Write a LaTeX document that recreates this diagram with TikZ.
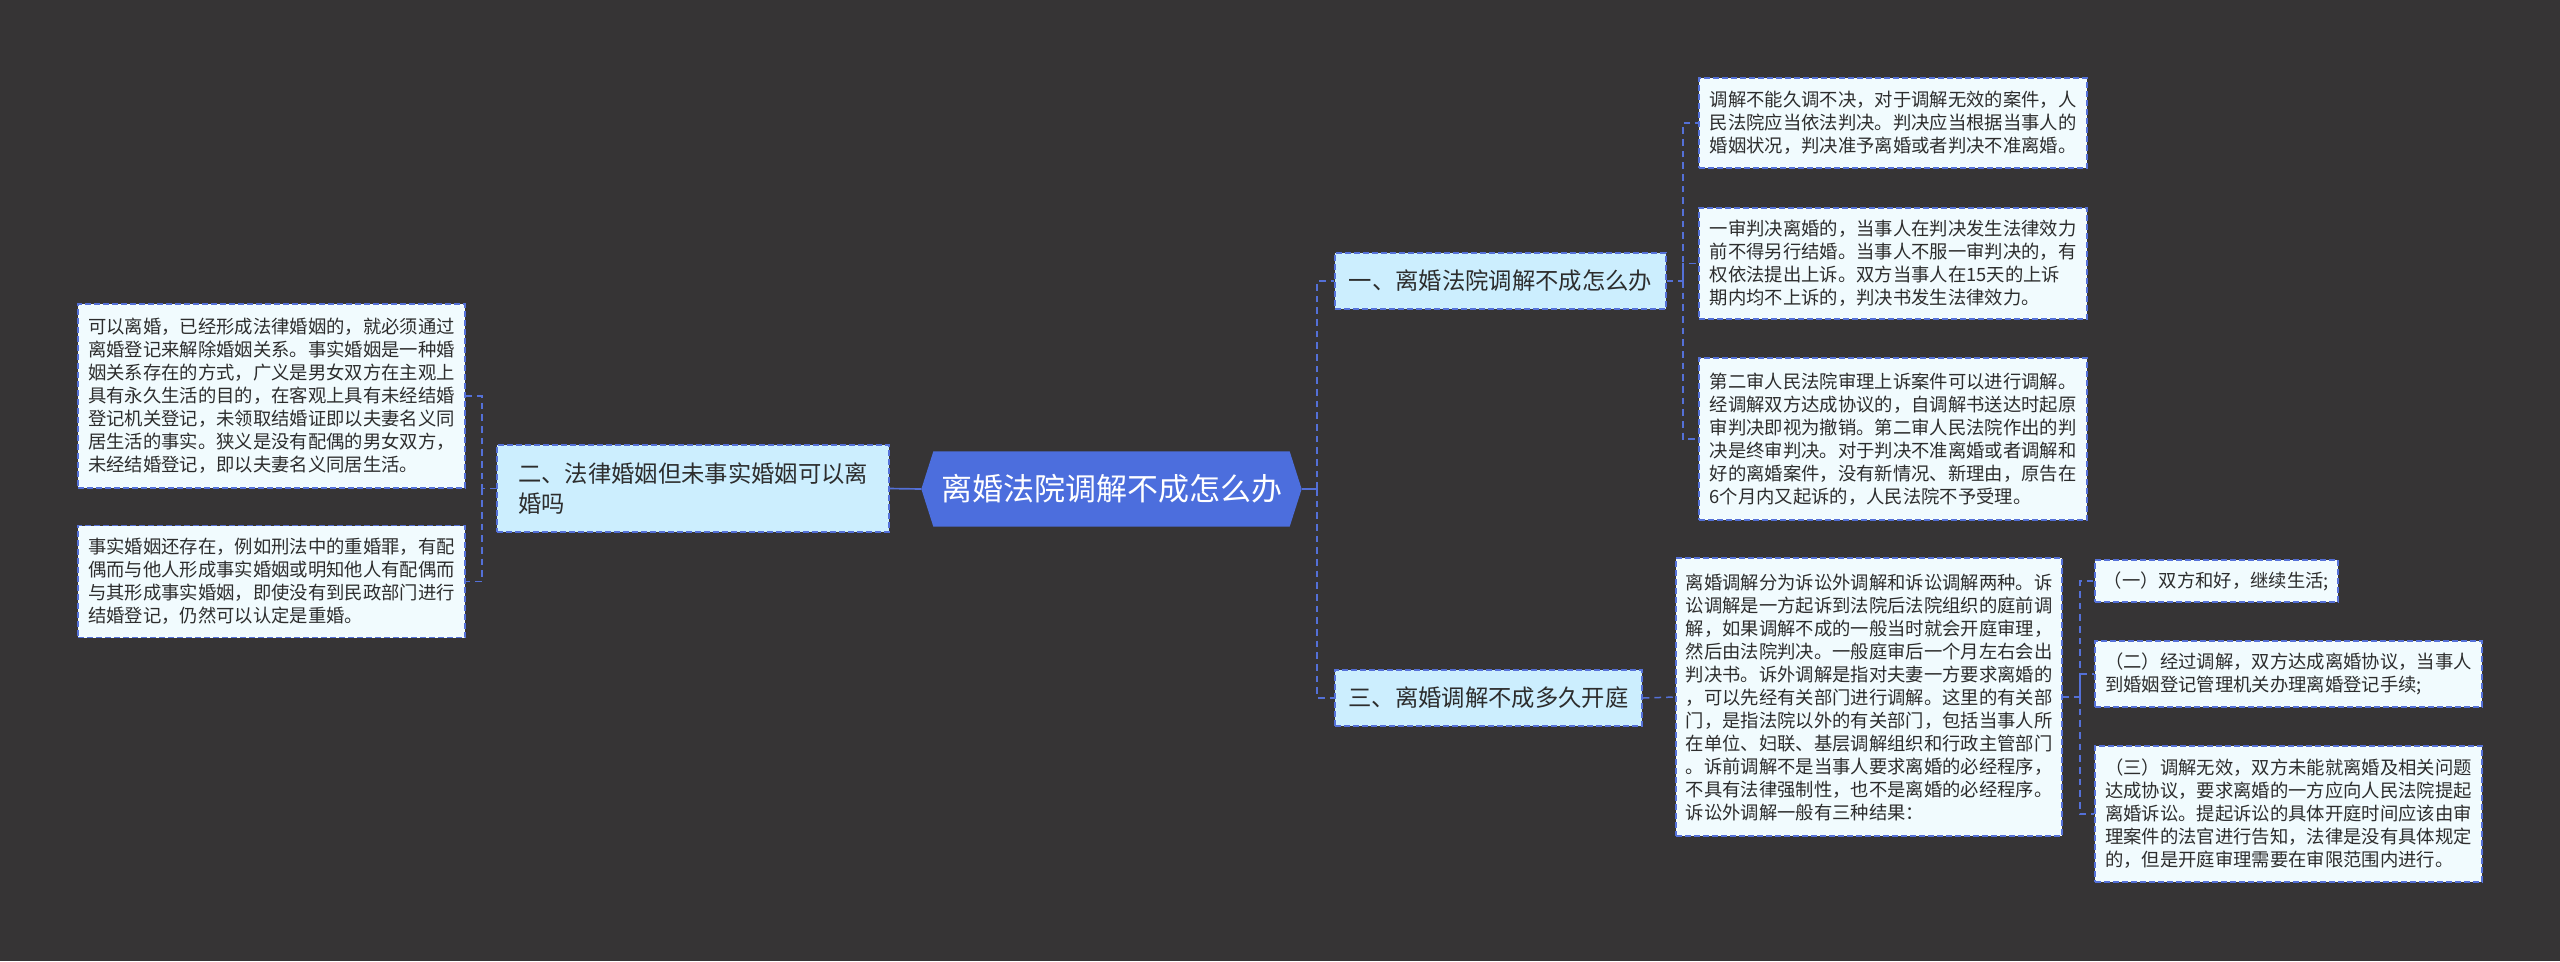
\documentclass[tikz,border=0pt]{standalone}
\usepackage{fontspec}
\setmainfont{Noto Sans CJK SC}
\definecolor{fond}{RGB}{54,52,53}
\definecolor{bleu}{RGB}{76,110,221}
\definecolor{trait}{RGB}{84,112,216}
\definecolor{ciel}{RGB}{204,238,254}
\definecolor{glace}{RGB}{241,251,254}
\definecolor{encre}{RGB}{45,45,45}
\usetikzlibrary{calc,backgrounds}

\begin{document}
\begin{tikzpicture}[x=0.3pt,y=-0.3pt,
	box/.style={draw=trait,line width=0.45pt,dash pattern=on 1.8pt off 0.9pt,text=encre,inner sep=0pt,align=left},
	leaf/.style={box,fill=glace,font=\fontsize{5.5}{6.9}\selectfont},
	branch/.style={box,fill=ciel,font=\fontsize{7}{9}\selectfont,minimum height=16.8pt},
	root/.style={text=white,inner sep=0pt,minimum width=113.7pt,minimum height=22.2pt,font=\fontsize{9.3}{11}\selectfont},
	link/.style={draw=trait,line width=0.45pt,dash pattern=on 2pt off 1.5pt},
	rootlink/.style={draw=trait,line width=0.5pt}]
	\useasboundingbox (0,0) rectangle (2560,961);

	\node[root] (root) at (1111.5,489) {离婚法院调解不成怎么办};
	\begin{scope}[on background layer]
		\fill[fond] (0,0) rectangle (2560,961);
		\fill[bleu] (root.west) -- ($(root.north west)+(12,0)$) -- ($(root.north east)+(-12,0)$)
		-- (root.east) -- ($(root.south east)+(-12,0)$) -- ($(root.south west)+(12,0)$) -- cycle;
	\end{scope}

	\node[branch,minimum width=117.6pt,minimum height=26.1pt] (b2) at (693,488.5)
	{二、法律婚姻但未事实婚姻可以离\\婚吗};
	\node[branch,minimum width=99.3pt] (b1) at (1500.5,281) {一、离婚法院调解不成怎么办};
	\node[branch,minimum width=92.1pt] (b3) at (1488.5,698) {三、离婚调解不成多久开庭};

	\node[leaf,minimum width=116.1pt,minimum height=55.2pt] (l1) at (271.5,396)
	{可以离婚，已经形成法律婚姻的，就必须通过\\离婚登记来解除婚姻关系。事实婚姻是一种婚\\姻关系存在的方式，广义是男女双方在主观上\\具有永久生活的目的，在客观上具有未经结婚\\登记机关登记，未领取结婚证即以夫妻名义同\\居生活的事实。狭义是没有配偶的男女双方，\\未经结婚登记，即以夫妻名义同居生活。};
	\node[leaf,minimum width=116.1pt,minimum height=33.6pt] (l2) at (271.5,581.5)
	{事实婚姻还存在，例如刑法中的重婚罪，有配\\偶而与他人形成事实婚姻或明知他人有配偶而\\与其形成事实婚姻，即使没有到民政部门进行\\结婚登记，仍然可以认定是重婚。};

	\node[leaf,minimum width=116.4pt,minimum height=27pt] (r1) at (1893,123)
	{调解不能久调不决，对于调解无效的案件，人\\民法院应当依法判决。判决应当根据当事人的\\婚姻状况，判决准予离婚或者判决不准离婚。};
	\node[leaf,minimum width=116.4pt,minimum height=33.3pt] (r2) at (1893,263.5)
	{一审判决离婚的，当事人在判决发生法律效力\\前不得另行结婚。当事人不服一审判决的，有\\权依法提出上诉。双方当事人在15天的上诉\\期内均不上诉的，判决书发生法律效力。};
	\node[leaf,minimum width=116.4pt,minimum height=48.6pt] (r3) at (1893,439)
	{第二审人民法院审理上诉案件可以进行调解。\\经调解双方达成协议的，自调解书送达时起原\\审判决即视为撤销。第二审人民法院作出的判\\决是终审判决。对于判决不准离婚或者调解和\\好的离婚案件，没有新情况、新理由，原告在\\6个月内又起诉的，人民法院不予受理。};

	\node[leaf,minimum width=115.8pt,minimum height=83.4pt] (t1) at (1869,697)
	{离婚调解分为诉讼外调解和诉讼调解两种。诉\\讼调解是一方起诉到法院后法院组织的庭前调\\解，如果调解不成的一般当时就会开庭审理，\\然后由法院判决。一般庭审后一个月左右会出\\判决书。诉外调解是指对夫妻一方要求离婚的\\，可以先经有关部门进行调解。这里的有关部\\门，是指法院以外的有关部门，包括当事人所\\在单位、妇联、基层调解组织和行政主管部门\\。诉前调解不是当事人要求离婚的必经程序，\\不具有法律强制性，也不是离婚的必经程序。\\诉讼外调解一般有三种结果：};

	\node[leaf,minimum width=72.9pt,minimum height=12.6pt] (u1) at (2216.5,581)
	{（一）双方和好，继续生活;};
	\node[leaf,minimum width=116.1pt,minimum height=19.8pt] (u2) at (2288.5,674)
	{（二）经过调解，双方达成离婚协议，当事人\\到婚姻登记管理机关办理离婚登记手续;};
	\node[leaf,minimum width=116.1pt,minimum height=40.8pt] (u3) at (2288.5,814)
	{（三）调解无效，双方未能就离婚及相关问题\\达成协议，要求离婚的一方应向人民法院提起\\离婚诉讼。提起诉讼的具体开庭时间应该由审\\理案件的法官进行告知，法律是没有具体规定\\的，但是开庭审理需要在审限范围内进行。};

	\coordinate (sp) at (1317,489);
	\coordinate (spl) at (482,488.5);
	\coordinate (spr) at (1683,281);
	\coordinate (spu) at (2080,697);

	\draw[rootlink] (root.west) -- (b2.east);
	\draw[rootlink] (root.east) -- (sp);
	\draw[link] (sp) |- (b1.west);
	\draw[link] (sp) |- (b3.west);
	\draw[link] (b2.west) -- (spl) |- (l1.east);
	\draw[link] (spl) |- (l2.east);
	\draw[link] (b1.east) -- (spr) |- (r1.west);
	\draw[link] (spr) |- (r2.west);
	\draw[link] (spr) |- (r3.west);
	\draw[link] (b3.east) -- (t1.west);
	\draw[link] (t1.east) -- (spu) |- (u1.west);
	\draw[link] (spu) |- (u2.west);
	\draw[link] (spu) |- (u3.west);
\end{tikzpicture}
\end{document}
